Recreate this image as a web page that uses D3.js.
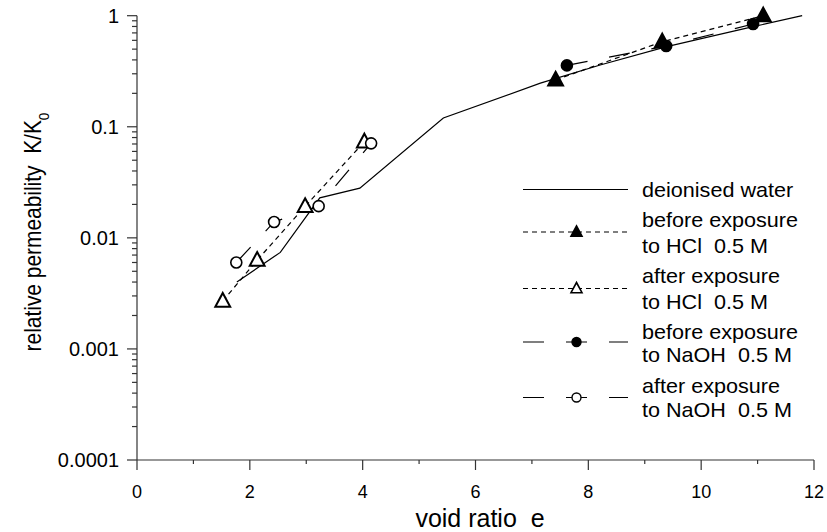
<!DOCTYPE html>
<html>
<head>
<meta charset="utf-8">
<script src="https://cdn.jsdelivr.net/npm/d3@7"></script>
<style>
  html, body { margin: 0; padding: 0; background: #fff; }
  svg text { font-family: "Liberation Sans", Arial, sans-serif; fill: #000; white-space: pre; }
</style>
</head>
<body>
<svg id="chart" width="827" height="532"></svg>
<script>
// ---- data ----
const xTicks = [0, 2, 4, 6, 8, 10, 12];
const yTicks = [0.0001, 0.001, 0.01, 0.1, 1];
const yTickLabels = ["0.0001", "0.001", "0.01", "0.1", "1"];

const waterE = [1.77, 2.54, 3.24, 3.95, 5.43, 7.15, 8.21, 9.39, 10.92, 11.79];
const waterK = [0.0040, 0.0074, 0.0229, 0.028, 0.12, 0.247, 0.36, 0.526, 0.796, 1.0];

const beforeHclE = [7.42, 9.31, 11.1];
const beforeHclK = [0.264, 0.583, 1.0];

const afterHclE = [1.52, 2.13, 2.98, 4.03];
const afterHclK = [0.0027, 0.0063, 0.0192, 0.0733];

const beforeNaohE = [7.62, 9.38, 10.92];
const beforeNaohK = [0.357, 0.533, 0.842];

const afterNaohE = [1.76, 2.43, 3.22, 4.15];
const afterNaohK = [0.006, 0.0139, 0.0193, 0.0709];

const legendLabels = [
  ["deionised water"],
  ["before exposure", "to HCl  0.5 M"],
  ["after exposure", "to HCl  0.5 M"],
  ["before exposure", "to NaOH  0.5 M"],
  ["after exposure", "to NaOH  0.5 M"]
];

// ---- layout ----
const svg = d3.select("#chart");
const pLeft = 137, pRight = 814, pTop = 15.7, pBottom = 460;
const x = d3.scaleLinear().domain([0, 12]).range([pLeft, pRight]);
const y = d3.scaleLog().domain([0.0001, 1]).range([pBottom, pTop]);

const axisColor = "#333";

// x axis
const gx = svg.append("g").attr("transform", `translate(0,${pBottom})`);
gx.append("line").attr("x1", pLeft).attr("x2", pRight).attr("stroke", axisColor).attr("stroke-width", 1.2);
const xMinor = d3.range(1, 12, 2);
gx.selectAll(".xmin").data(xMinor).enter().append("line")
  .attr("x1", d => x(d)).attr("x2", d => x(d)).attr("y1", 0).attr("y2", 4)
  .attr("stroke", axisColor).attr("stroke-width", 1.2);
gx.selectAll(".xmaj").data(xTicks).enter().append("line")
  .attr("x1", d => x(d)).attr("x2", d => x(d)).attr("y1", 0).attr("y2", 10)
  .attr("stroke", axisColor).attr("stroke-width", 1.2);
gx.selectAll(".xlab").data(xTicks).enter().append("text")
  .attr("x", d => x(d)).attr("y", 38).attr("text-anchor", "middle")
  .style("font-size", "18px").text(d => d);

// y axis
const gy = svg.append("g").attr("transform", `translate(${pLeft},0)`);
gy.append("line").attr("y1", pTop).attr("y2", pBottom).attr("stroke", axisColor).attr("stroke-width", 1.2);
const yMinor = [];
[0.0001, 0.001, 0.01, 0.1].forEach(b => { for (let i = 2; i <= 9; i++) yMinor.push(b * i); });
gy.selectAll(".ymin").data(yMinor).enter().append("line")
  .attr("x1", -5).attr("x2", 0).attr("y1", d => y(d)).attr("y2", d => y(d))
  .attr("stroke", axisColor).attr("stroke-width", 1.2);
gy.selectAll(".ymaj").data(yTicks).enter().append("line")
  .attr("x1", -10).attr("x2", 0).attr("y1", d => y(d)).attr("y2", d => y(d))
  .attr("stroke", axisColor).attr("stroke-width", 1.2);
gy.selectAll(".ylab").data(yTicks).enter().append("text")
  .attr("x", -18).attr("y", d => y(d)).attr("dy", "0.36em").attr("text-anchor", "end")
  .style("font-size", "20px").text((d, i) => yTickLabels[i]);

// axis titles
svg.append("text").attr("x", 480).attr("y", 527).attr("text-anchor", "middle")
  .style("font-size", "25px").text("void ratio  e");
const yt = svg.append("text").attr("transform", `translate(41,232) rotate(-90) scale(0.91,1)`)
  .attr("text-anchor", "middle").style("font-size", "23px");
yt.append("tspan").text("relative permeability  K/K");
yt.append("tspan").attr("baseline-shift", "sub").style("font-size", "15px").text("0");

// ---- series ----
const line = d3.line().x(d => x(d[0])).y(d => y(d[1]));
const zip = (a, b) => a.map((v, i) => [v, b[i]]);

const series = [
  { pts: zip(waterE, waterK), dash: null, marker: null },
  { pts: zip(beforeHclE, beforeHclK), dash: "5 4", marker: "tri", fill: "#000" },
  { pts: zip(afterHclE, afterHclK), dash: "5 4", marker: "tri", fill: "#fff" },
  { pts: zip(beforeNaohE, beforeNaohK), dash: "21 22", marker: "circ", fill: "#000" },
  { pts: zip(afterNaohE, afterNaohK), dash: "21 22", marker: "circ", fill: "#fff" }
];

const triPath = s => `M0,${-s * 0.6}L${s * 0.55},${s * 0.42}L${-s * 0.55},${s * 0.42}Z`;

series.forEach(s => {
  svg.append("path").attr("d", line(s.pts)).attr("fill", "none")
    .attr("stroke", "#000").attr("stroke-width", 1.2)
    .attr("stroke-dasharray", s.dash);
});
series.forEach(s => {
  if (!s.marker) return;
  const g = svg.append("g");
  s.pts.forEach(p => {
    if (s.marker === "tri") {
      g.append("path").attr("d", triPath(13.5)).attr("transform", `translate(${x(p[0])},${y(p[1])})`)
        .attr("fill", s.fill).attr("stroke", "#000").attr("stroke-width", 2);
    } else {
      g.append("circle").attr("cx", x(p[0])).attr("cy", y(p[1])).attr("r", 5.5)
        .attr("fill", s.fill).attr("stroke", "#000").attr("stroke-width", 1.6);
    }
  });
});

// ---- legend ----
const legRowY = [189.5, 232, 288.5, 342, 397.5];
const legTextY = [[190], [220, 246], [276, 302], [332, 355], [386, 410]];
const lg = svg.append("g");
series.forEach((s, i) => {
  const ly = legRowY[i];
  lg.append("line").attr("x1", 523).attr("x2", 628).attr("y1", ly).attr("y2", ly)
    .attr("stroke", "#000").attr("stroke-width", 1.2).attr("stroke-dasharray", s.dash);
  if (s.marker === "tri") {
    lg.append("path").attr("d", triPath(10)).attr("transform", `translate(576.5,${ly})`)
      .attr("fill", s.fill).attr("stroke", "#000").attr("stroke-width", 1.6);
  } else if (s.marker === "circ") {
    lg.append("circle").attr("cx", 576.5).attr("cy", ly).attr("r", 4.5)
      .attr("fill", s.fill).attr("stroke", "#000").attr("stroke-width", 1.4);
  }
  legendLabels[i].forEach((t, j) => {
    lg.append("text").attr("transform", `translate(642,${legTextY[i][j]}) scale(1.08,1)`)
      .attr("dy", "0.35em").style("font-size", "20px").text(t);
  });
});
</script>
</body>
</html>
